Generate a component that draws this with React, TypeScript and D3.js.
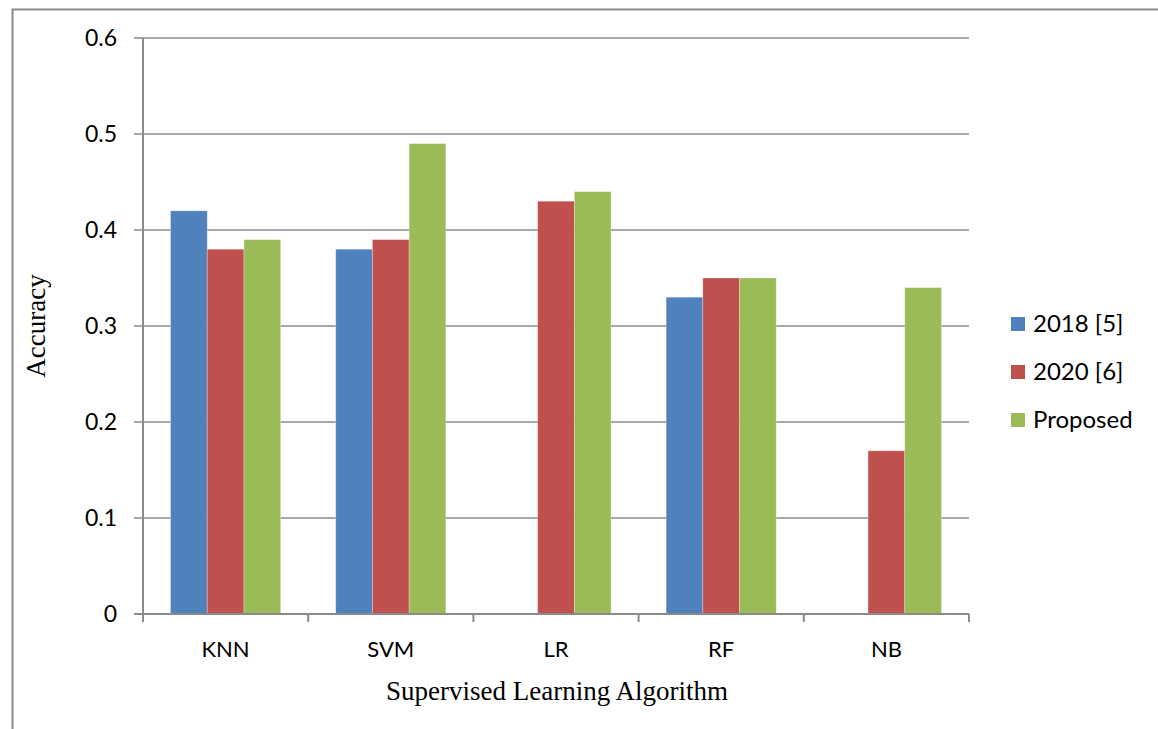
import React, { useRef, useEffect } from "react";
import * as d3 from "d3";

const categories = ["KNN", "SVM", "LR", "RF", "NB"];
const seriesNames = ["2018 [5]", "2020 [6]", "Proposed"];
const values2018 = [0.42, 0.38, 0, 0.33, 0];
const values2020 = [0.38, 0.39, 0.43, 0.35, 0.17];
const valuesProposed = [0.39, 0.49, 0.44, 0.35, 0.34];
const yTicks = [0, 0.1, 0.2, 0.3, 0.4, 0.5, 0.6];
const colors = ["#4F81BD", "#C0504D", "#9BBB59"];

const series = [values2018, values2020, valuesProposed];

export default function App() {
  const ref = useRef<SVGSVGElement>(null);

  const width = 1158;
  const height = 729;
  const left = 143;
  const right = 969;
  const top = 38;
  const bottom = 614;
  const labelFont = "Lato, 'Open Sans', sans-serif";
  const titleFont = "'Liberation Serif', 'DejaVu Serif', serif";
  const gridColor = "#8a8a8a";

  useEffect(() => {
    const svg = d3.select(ref.current);
    svg.selectAll("*").remove();

    const x = d3.scaleBand().domain(categories).range([left, right]);
    const inner = d3
      .scaleBand()
      .domain(seriesNames)
      .range([0, x.bandwidth()])
      .paddingInner(0)
      .paddingOuter(0.75);
    const y = d3.scaleLinear().domain([0, 0.6]).range([bottom, top]);

    // outer frame (runs off the picture on the right and bottom)
    svg
      .append("path")
      .attr("d", `M12.5,${height + 5}V9.5H${width + 5}`)
      .attr("fill", "none")
      .attr("stroke", "#8c8c8c")
      .attr("stroke-width", 2);

    // gridlines
    svg
      .append("g")
      .selectAll("line")
      .data(yTicks.filter((t) => t > 0))
      .join("line")
      .attr("x1", left - 9)
      .attr("x2", right)
      .attr("y1", (d) => y(d))
      .attr("y2", (d) => y(d))
      .attr("stroke", gridColor)
      .attr("stroke-width", 1.5);

    // bars
    series.forEach((vals, si) => {
      svg
        .append("g")
        .selectAll("rect")
        .data(vals.map((v, i) => ({ v, c: categories[i] })).filter((d) => d.v > 0))
        .join("rect")
        .attr("x", (d) => (x(d.c) as number) + (inner(seriesNames[si]) as number))
        .attr("width", inner.bandwidth())
        .attr("y", (d) => y(d.v))
        .attr("height", (d) => y(0) - y(d.v))
        .attr("fill", colors[si])
        .attr("stroke", "#ffffff")
        .attr("stroke-opacity", 0.35)
        .attr("stroke-width", 0.8);
    });

    // y axis line
    svg
      .append("line")
      .attr("x1", left)
      .attr("x2", left)
      .attr("y1", top)
      .attr("y2", bottom + 8)
      .attr("stroke", gridColor)
      .attr("stroke-width", 2);

    svg
      .append("line")
      .attr("x1", left - 9)
      .attr("x2", left)
      .attr("y1", y(0))
      .attr("y2", y(0))
      .attr("stroke", gridColor)
      .attr("stroke-width", 2);

    // x axis line
    svg
      .append("line")
      .attr("x1", left)
      .attr("x2", right)
      .attr("y1", bottom)
      .attr("y2", bottom)
      .attr("stroke", gridColor)
      .attr("stroke-width", 2);

    // category ticks
    svg
      .append("g")
      .selectAll("line")
      .data(categories.map((c) => x(c) as number).concat([right]))
      .join("line")
      .attr("x1", (d) => d)
      .attr("x2", (d) => d)
      .attr("y1", bottom)
      .attr("y2", bottom + 8)
      .attr("stroke", gridColor)
      .attr("stroke-width", 2);

    // y tick labels
    svg
      .append("g")
      .selectAll("text")
      .data(yTicks)
      .join("text")
      .attr("x", 117)
      .attr("y", (d) => y(d))
      .attr("dy", "0.36em")
      .attr("text-anchor", "end")
      .style("font-family", labelFont)
      .style("font-size", "23px")
      .attr("fill", "#000")
      .text((d) => (d === 0 ? "0" : d3.format(".1f")(d)));

    // x tick labels
    svg
      .append("g")
      .selectAll("text")
      .data(categories)
      .join("text")
      .attr("x", (d) => (x(d) as number) + x.bandwidth() / 2)
      .attr("y", 657)
      .attr("text-anchor", "middle")
      .style("font-family", labelFont)
      .style("font-size", "22px")
      .attr("fill", "#000")
      .text((d) => d);

    // axis titles
    svg
      .append("text")
      .attr("x", 557)
      .attr("y", 700)
      .attr("text-anchor", "middle")
      .style("font-family", titleFont)
      .style("font-size", "27px")
      .text("Supervised Learning Algorithm");

    svg
      .append("text")
      .attr("transform", "translate(45,326) rotate(-90)")
      .attr("text-anchor", "middle")
      .style("font-family", titleFont)
      .style("font-size", "27px")
      .text("Accuracy");

    // legend
    const legend = svg
      .append("g")
      .selectAll("g")
      .data(seriesNames)
      .join("g")
      .attr("transform", (d, i) => `translate(1011, ${324 + i * 48})`);

    legend
      .append("rect")
      .attr("x", 0)
      .attr("y", -7)
      .attr("width", 14)
      .attr("height", 14)
      .attr("fill", (d, i) => colors[i]);

    legend
      .append("text")
      .attr("x", 22)
      .attr("y", 7.5)
      .style("font-family", labelFont)
      .style("font-size", "24px")
      .text((d) => d);
  }, []);

  return (
    <svg
      ref={ref}
      width={width}
      height={height}
      style={{ position: "absolute", left: 0, top: 0, background: "#fff" }}
    ></svg>
  );
}
